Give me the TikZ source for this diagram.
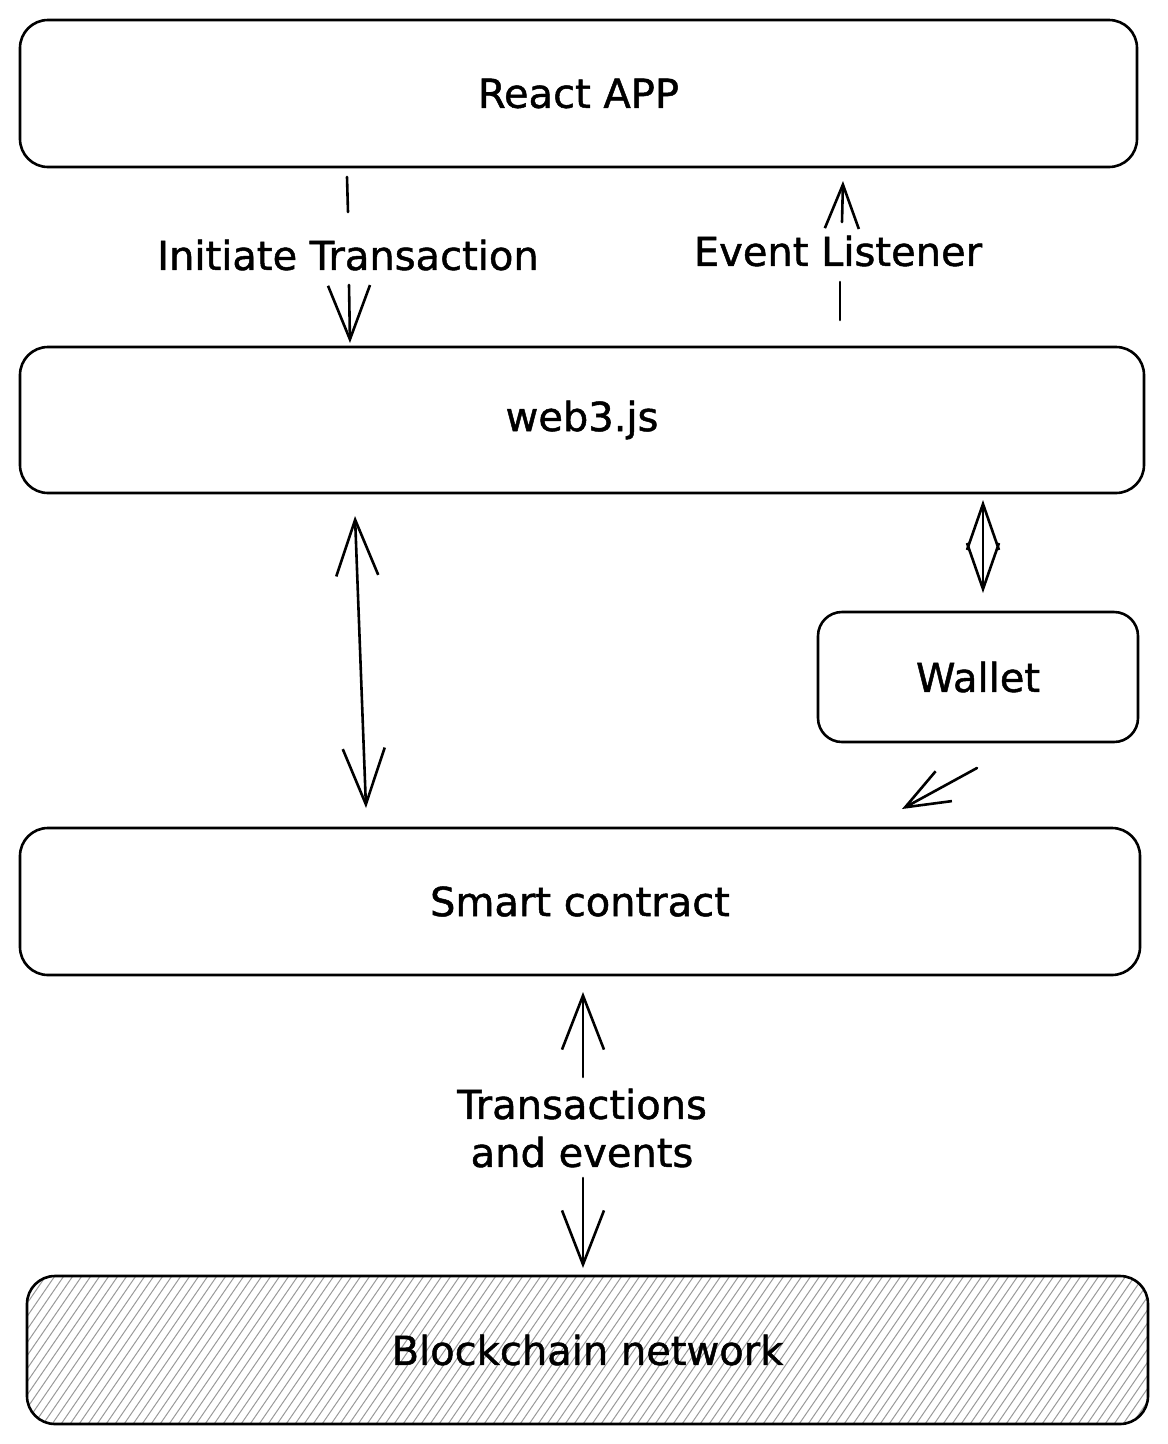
\documentclass[tikz,border=0pt]{standalone}
\usepackage{fontspec}
\setmainfont{DejaVu Sans}[FakeBold=1.2]
\usetikzlibrary{arrows.meta}
\begin{document}
\begin{tikzpicture}[x=1pt,y=-1pt,
  box/.style={draw=black, line width=2.6pt, rounded corners=28pt, inner sep=0pt,
    font=\fontsize{40}{48}\selectfont},
  lbl/.style={font=\fontsize{40}{48}\selectfont, inner sep=0pt, align=center},
  ln/.style={draw=black, line width=2.6pt, line cap=round},
  hd/.style={-{Straight Barb[length=54pt,width=42pt,line width=2.6pt]}},
  hdd/.style={{Straight Barb[length=56pt,width=42pt,line width=2.6pt]}-{Straight Barb[length=56pt,width=42pt,line width=2.6pt]}},
  hatch/.style={draw=gray!80, line width=1pt}
]
\useasboundingbox (0,0) rectangle (1168,1444);

% hatch of the blockchain box
\begin{scope}
  \clip[rounded corners=28pt] (27,1276) rectangle (1148,1424);
  \foreach \x in {-150,-141,...,1200} \draw[hatch] (\x,1430) -- ++(110,-160);
\end{scope}

% boxes
\node[box, minimum width=1117pt, minimum height=147pt] (react) at (578.5,93.5) {React APP};
\node[box, minimum width=1124pt, minimum height=146pt] (web3) at (582,420) {web3.js};
\node[box, minimum width=320pt, minimum height=130pt, rounded corners=24pt] (wallet) at (978,677) {Wallet};
\node[box, minimum width=1120pt, minimum height=147pt] (smart) at (580,901.5) {Smart contract};
\node[box, minimum width=1121pt, minimum height=148pt] (chain) at (587.5,1350) {Blockchain network};

% labels
\node[lbl] (linit) at (348,255) {Initiate Transaction};
\node[lbl] (levent) at (838,251) {Event Listener};
\node[lbl] (ltrans) at (582,1128) {Transactions\\and events};

% free ends
\coordinate (i1) at (347,177);
\coordinate (i2) at (348,212);
\coordinate (i3) at (349,285);
\coordinate (i4) at (350,343);
\coordinate (e1) at (840,320);
\coordinate (e2) at (840,282);
\coordinate (e3) at (842,222);
\coordinate (e4) at (843,181);
\coordinate (d1) at (355,516);
\coordinate (d2) at (366,808);
\coordinate (w1) at (983,500);
\coordinate (w2) at (983,593);
\coordinate (s1) at (977,768);
\coordinate (s2) at (902,809);
\coordinate (t1) at (583,1077);
\coordinate (t2) at (583,992);
\coordinate (t3) at (583,1178);
\coordinate (t4) at (583,1268);

% connectors
\draw[ln] (i1) -- (i2);
\draw[ln, hd] (i3) -- (i4);
\draw[ln] (e1) -- (e2);
\draw[ln, -{Straight Barb[length=44pt,width=34pt,line width=2.6pt]}] (e3) -- (e4);
\draw[ln, hdd] (d1) -- (d2);
\draw[ln, {Straight Barb[length=46pt,width=32pt,line width=2.6pt]}-{Straight Barb[length=46pt,width=32pt,line width=2.6pt]}] (w1) -- (w2);
\draw[ln, -{Straight Barb[length=44pt,width=34pt,line width=2.6pt]}] (s1) -- (s2);
\draw[ln, hd] (t1) -- (t2);
\draw[ln, hd] (t3) -- (t4);
\end{tikzpicture}
\end{document}
